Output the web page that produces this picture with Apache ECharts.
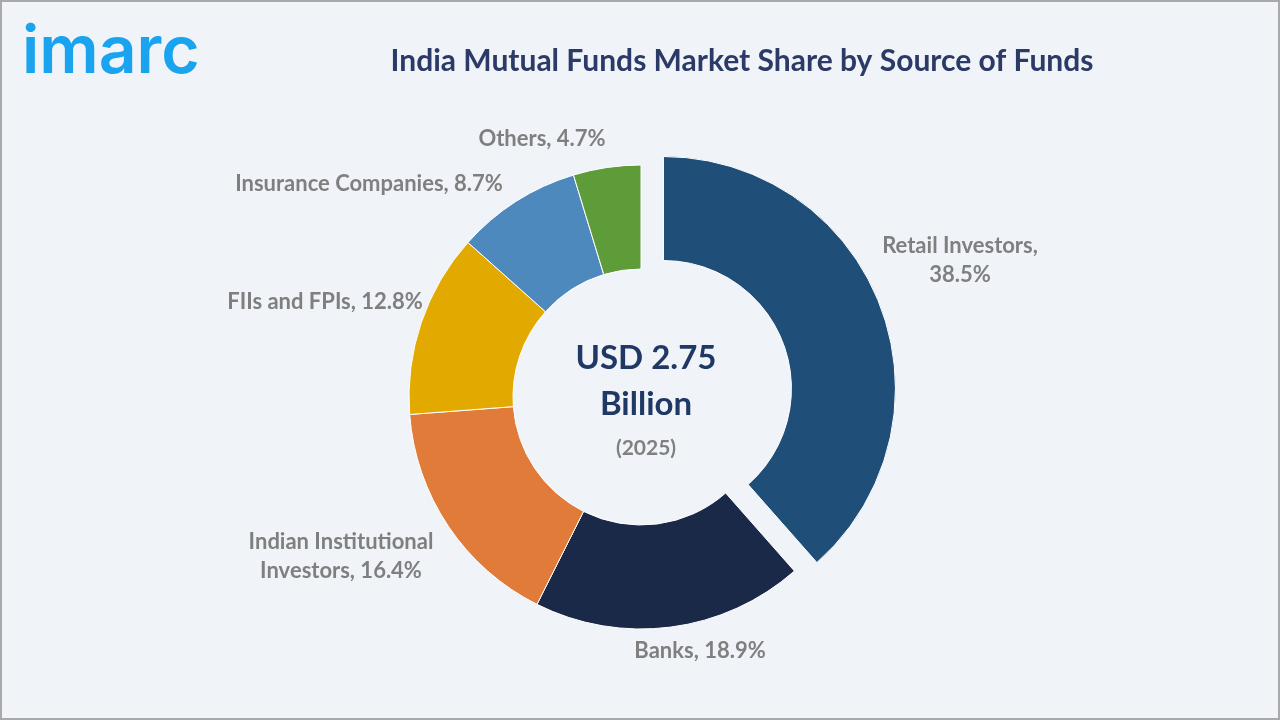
<!DOCTYPE html>
<html>
<head>
    <meta charset="utf-8"/>
    <title>India Mutual Funds Market Share by Source of Funds</title>
    <style type="text/css">
        html, body {
            margin: 0;
            padding: 0;
            background: #f0f4f9;
        }
        #main {
            width: 1280px;
            height: 720px;
            box-sizing: border-box;
            border: 2px solid #a9a9a9;
        }
    </style>
    <script type="text/javascript" src="https://cdn.jsdelivr.net/npm/echarts@6/dist/echarts.min.js"></script>
</head>
<body>
<div id="main"></div>
<script type="text/javascript">

    // 数据
    var categories = ['Retail Investors', 'Banks', 'Indian Institutional Investors', 'FIIs and FPIs', 'Insurance Companies', 'Others'];
    var shares = [38.5, 18.9, 16.4, 12.8, 8.7, 4.7];
    var labelTexts = ['Retail Investors,\n38.5%', 'Banks, 18.9%', 'Indian Institutional\nInvestors, 16.4%', 'FIIs and FPIs, 12.8%', 'Insurance Companies, 8.7%', 'Others, 4.7%'];
    var colors = ['#1f4e79', '#1b2949', '#e07b39', '#e2aa00', '#4e89bd', '#5e9c3a'];

    // 标签中心位置（像素）
    var labelPos = [[958, 258], [698, 649], [339, 554], [323, 300], [367, 182], [540, 137]];

    var font = 'Lato, "Open Sans", sans-serif';
    var center = [639, 395];
    var explode = 24; // 第一个扇区（散户）向外偏移

    var total = shares.reduce(function (a, b) { return a + b; }, 0);
    var midRad = (shares[0] / 2) / total * 2 * Math.PI;
    var explodedCenter = [center[0] + explode * Math.sin(midRad), center[1] - explode * Math.cos(midRad)];

    // onlyFirst: true -> 只画第一个扇区；false -> 画其余扇区
    function buildData(onlyFirst) {
        return categories.map(function (name, i) {
            var visible = onlyFirst ? i === 0 : i !== 0;
            return {
                name: name,
                value: shares[i],
                itemStyle: visible ? {color: colors[i]} : {color: 'transparent', borderWidth: 0},
                label: {show: visible, formatter: labelTexts[i]}
            };
        });
    }

    var myChart = echarts.init(document.getElementById('main'));

    var pieBase = {
        type: 'pie',
        radius: [128, 232],
        startAngle: 90,
        clockwise: true,
        itemStyle: {borderColor: '#ffffff', borderWidth: 1},
        label: {
            show: true,
            position: 'outside',
            fontFamily: font,
            fontSize: 22,
            fontWeight: 'bold',
            color: '#7f7f7f',
            lineHeight: 29
        },
        labelLine: {show: false, length: 18, length2: 0},
        labelLayout: function (params) {
            var p = labelPos[params.dataIndex];
            return {x: p[0], y: p[1], align: 'center', verticalAlign: 'middle'};
        },
        emphasis: {disabled: true}
    };

    var option = {
        backgroundColor: '#f0f4f9',
        animation: false,
        title: [{
            text: 'India Mutual Funds Market Share by Source of Funds',
            left: 735,
            top: 39,
            textAlign: 'center',
            textStyle: {fontFamily: font, fontSize: 30, fontWeight: 'bold', color: '#2b3a67'}
        }, {
            text: 'USD 2.75\nBillion',
            left: 639,
            top: 328,
            textAlign: 'center',
            textStyle: {fontFamily: font, fontSize: 33, fontWeight: 'bold', color: '#1f3864', lineHeight: 46}
        }, {
            text: '(2025)',
            left: 639,
            top: 431,
            textAlign: 'center',
            textStyle: {fontFamily: font, fontSize: 21, fontWeight: 'bold', color: '#808080'}
        }],
        graphic: [{
            type: 'text',
            left: 20,
            top: 18,
            style: {
                text: 'imarc',
                font: '600 66px Inter, "Noto Sans", sans-serif',
                fill: '#1aa3ef'
            }
        }],
        series: [
            Object.assign({}, pieBase, {center: center, data: buildData(false)}),
            Object.assign({}, pieBase, {center: explodedCenter, data: buildData(true)})
        ]
    };

    myChart.setOption(option);

</script>
</body>
</html>
